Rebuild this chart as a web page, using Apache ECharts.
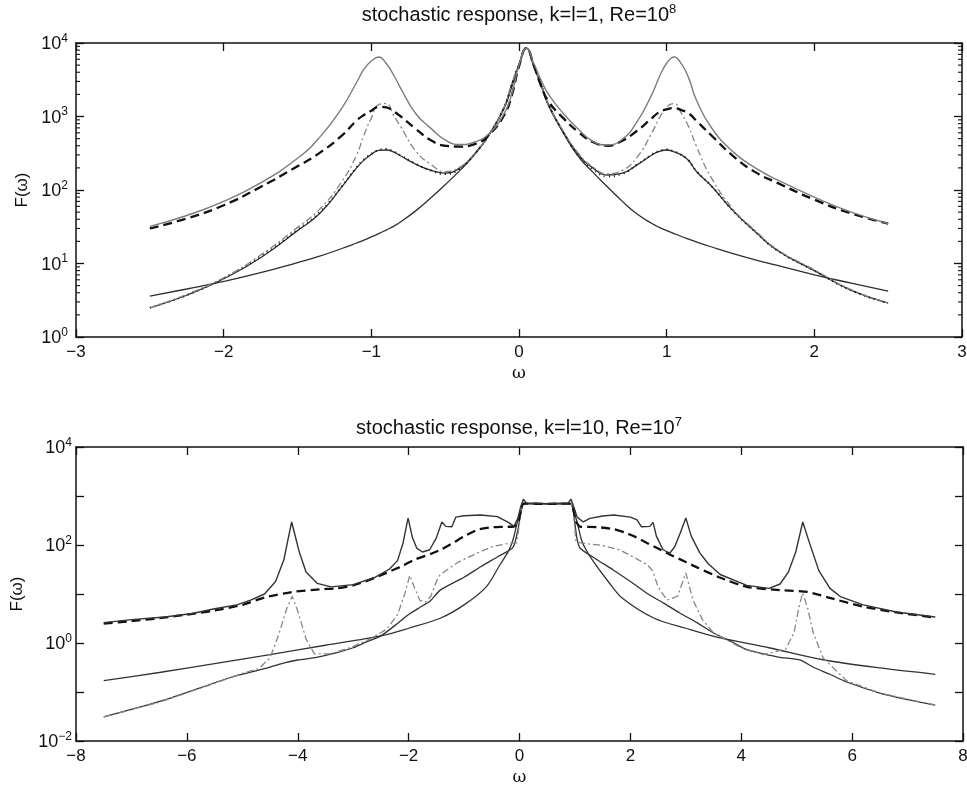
<!DOCTYPE html>
<html>
<head>
<meta charset="utf-8">
<script src="https://cdn.jsdelivr.net/npm/echarts@6/dist/echarts.min.js"></script>
<style>
html, body { margin: 0; padding: 0; background: #fff; }
#box { width: 967px; height: 791px; }
</style>
</head>
<body>
<div id="box"></div>
<script>
// top panel: k=l=1, Re=1e8 -- all curves share one omega grid
var wTop = [-2.5, -2.25, -2.0, -1.75, -1.5, -1.35, -1.2, -1.1, -1.05, -1.0, -0.95, -0.9, -0.85, -0.8, -0.7,
  -0.6, -0.5, -0.4, -0.3, -0.2, -0.1, -0.05, 0, 0.05, 0.1, 0.15, 0.2, 0.3, 0.4, 0.5, 0.6, 0.7, 0.8, 0.9, 0.95,
  1.0, 1.05, 1.1, 1.15, 1.2, 1.3, 1.45, 1.6, 1.75, 2.0, 2.25, 2.5];
var topGray = [32, 45, 70, 125, 270, 520, 1300, 2900, 4400, 5700, 6450, 5300, 3700, 2400, 1100,
  700, 480, 415, 450, 590, 1100, 2000, 5000, 8500, 5300, 3100, 2000, 1100, 680, 460, 410, 490, 850, 2000, 3450,
  5300, 6450, 5200, 3300, 1700, 720, 330, 200, 137, 80, 50, 35];
var topDashed = [30, 41, 62, 110, 210, 320, 550, 880, 1050, 1200, 1350, 1330, 1180, 1000, 680,
  480, 400, 390, 420, 570, 1050, 1900, 4800, 8500, 5000, 2600, 1600, 950, 620, 450, 400, 470, 640, 950, 1150,
  1250, 1300, 1220, 1100, 880, 560, 290, 175, 125, 74, 48, 35];
var topMid = [2.5, 3.7, 6.2, 12, 28, 48, 110, 200, 255, 305, 345, 350, 330, 290, 225,
  187, 170, 200, 310, 580, 1350, 2700, 5100, 8500, 4900, 2700, 1450, 620, 310, 200, 160, 170, 220, 300, 335,
  350, 330, 300, 250, 180, 115, 52, 27, 15, 8, 4.3, 2.9];
var topDashDot = [2.5, 3.8, 6.4, 13, 31, 55, 130, 300, 560, 950, 1450, 1500, 1050, 720, 340,
  225, 178, 205, 315, 585, 1350, 2700, 5100, 8500, 4900, 2700, 1450, 630, 320, 205, 166, 185, 280, 600, 950,
  1350, 1500, 1100, 720, 400, 150, 55, 28, 15.5, 8.2, 4.4, 2.9];
var topDotted = [2.5, 3.7, 6.3, 12.5, 29, 50, 112, 205, 260, 310, 350, 360, 335, 295, 228,
  185, 165, 195, 310, 580, 1350, 2700, 5100, 8500, 4900, 2700, 1450, 615, 300, 192, 153, 165, 222, 305, 340,
  355, 335, 300, 250, 182, 115, 52, 27, 15, 8, 4.3, 2.9];
var topLow = [3.6, 4.5, 5.7, 7.5, 10.3, 12.6, 16, 19, 20.8, 23, 25.5, 28.5, 32, 37, 52,
  77, 118, 185, 305, 570, 1300, 2500, 5000, 8500, 4800, 2650, 1400, 600, 290, 175, 110, 70, 47, 35, 31,
  28, 25.5, 23.3, 21.4, 19.7, 16.9, 13.6, 11.2, 9.4, 7.0, 5.4, 4.2];

// bottom panel: k=l=10, Re=1e7
var wBotPeaks = [-7.5, -7.0, -6.4, -5.9, -5.5, -5.1, -4.85, -4.6, -4.4, -4.25, -4.17, -4.11, -4.05, -3.97, -3.85,
  -3.65, -3.4, -3.0, -2.6, -2.35, -2.2, -2.1, -2.01, -1.93, -1.85, -1.75, -1.62, -1.5, -1.4, -1.33, -1.22, -1.15,
  -1.0, -0.7, -0.4, -0.2, -0.1, -0.03, 0.02, 0.07, 0.12, 0.5, 0.88, 0.93, 0.98, 1.04, 1.15, 1.27, 1.5, 1.7, 2.0,
  2.12, 2.2, 2.35, 2.41, 2.47, 2.59, 2.71, 2.8, 2.9, 3.0, 3.1, 3.25, 3.4, 3.62, 4.1, 4.5, 4.7, 4.85, 4.98, 5.11,
  5.22, 5.4, 5.6, 5.8, 6.2, 6.8, 7.5];
var botPeaks = [2.6, 3.0, 3.4, 4.0, 5.0, 6.0, 7.5, 10, 18, 50, 140, 295, 160, 70, 28,
  16.5, 14, 15.5, 22, 32, 48, 110, 355, 140, 85, 72, 80, 140, 295, 240, 235, 370,
  395, 410, 380, 290, 240, 350, 600, 860, 720, 700, 720, 860, 600, 370, 295, 350, 390, 410, 370,
  325, 235, 240, 290, 150, 80, 68, 92, 175, 355, 150, 70, 42, 25, 15, 13, 16, 28, 70, 295,
  120, 30, 13, 8.7, 6, 4.3, 3.4];

var wBotDashed = [-7.5, -7.0, -6.5, -6.0, -5.5, -5.0, -4.6, -4.1, -3.6, -3.3, -3.0, -2.7, -2.4, -2.1, -1.9,
  -1.6, -1.4, -1.2, -1.0, -0.75, -0.5, -0.3, -0.1, -0.02, 0.03, 0.07, 0.12, 0.5, 0.88, 0.93, 0.97, 1.02, 1.1,
  1.4, 1.7, 1.9, 2.1, 2.3, 2.5, 2.7, 3.0, 3.2, 3.6, 4.1, 4.7, 5.2, 5.6, 6.2, 6.8, 7.5];
var botDashed = [2.5, 2.8, 3.2, 3.8, 4.6, 6.0, 8.5, 11, 12.5, 13, 15, 19.5, 27, 38, 50,
  66, 82, 110, 150, 205, 230, 235, 238, 300, 550, 700, 700, 690, 700, 700, 550, 300, 235,
  232, 210, 180, 145, 110, 85, 65, 45, 35, 22, 14, 12, 11, 8.3, 5.5, 4.2, 3.3];

var wBotDashDot = [-7.5, -6.5, -5.5, -5.0, -4.7, -4.5, -4.35, -4.2, -4.1, -4.0, -3.85, -3.7, -3.4, -3.0, -2.7,
  -2.4, -2.2, -2.07, -1.98, -1.9, -1.8, -1.7, -1.6, -1.5, -1.43, -1.31, -1.1, -0.83, -0.5, -0.2, -0.05,
  0.03, 0.07, 0.12, 0.5, 0.88, 0.93, 0.97, 1.02, 1.1, 1.5, 1.8, 2.05, 2.3, 2.4, 2.5, 2.66, 2.85, 3.0, 3.13,
  3.3, 3.5, 4.0, 4.4, 4.8, 4.95, 5.05, 5.11, 5.2, 5.3, 5.48, 5.9, 6.5, 7.5];
var botDashDot = [0.031, 0.062, 0.15, 0.24, 0.3, 0.5, 1.4, 5, 9, 4.5, 1.2, 0.6, 0.6, 0.85, 1.2,
  1.9, 3.8, 10, 24, 14, 7.5, 6.8, 9, 18, 25, 31, 45, 63, 92, 108, 110,
  500, 700, 700, 690, 700, 700, 500, 115, 110, 98, 80, 57, 40, 30, 14, 7.5, 9, 27, 7.5,
  3.0, 1.6, 0.8, 0.58, 0.75, 1.6, 6, 10.5, 5, 1.6, 0.49, 0.17, 0.095, 0.054];

var wBotKink = [-7.5, -6.4, -5.2, -4.6, -4.26, -4.0, -3.66, -3.33, -3.0, -2.76, -2.5, -2.2, -2.0, -1.8, -1.61,
  -1.43, -1.0, -0.7, -0.4, -0.12, -0.03, 0.03, 0.07, 0.12, 0.5, 0.88, 0.93, 0.97, 1.03, 1.09, 1.4, 1.69, 2.0,
  2.29, 2.6, 2.89, 3.2, 3.5, 3.8, 4.1, 4.4, 4.7, 5.06, 5.3, 5.6, 5.9, 6.5, 7.0, 7.5];
var botKink = [0.031, 0.069, 0.2, 0.3, 0.39, 0.45, 0.51, 0.62, 0.8, 1.05, 1.4, 2.5, 3.8, 5.3, 7.2,
  12, 22, 36, 57, 88, 200, 500, 700, 700, 690, 700, 700, 500, 150, 87, 50, 31, 18,
  10.5, 6.5, 4.1, 2.6, 1.6, 1.1, 0.73, 0.6, 0.51, 0.45, 0.32, 0.23, 0.16, 0.095, 0.07, 0.054];

var wBotFan = [-7.5, -6.5, -5.5, -4.5, -3.5, -2.5, -2.0, -1.43, -1.0, -0.6, -0.35, -0.2, -0.12, -0.03,
  0.03, 0.07, 0.12, 0.5, 0.88, 0.93, 0.97, 1.03, 1.12, 1.2, 1.35, 1.6, 1.84, 2.43, 3.0, 3.58, 4.5, 5.5, 6.5, 7.5];
var botFan = [0.17, 0.25, 0.38, 0.58, 0.9, 1.4, 2.0, 3.2, 6, 14, 40, 75, 125, 320,
  500, 700, 700, 690, 700, 700, 500, 320, 125, 80, 43, 18, 8.5, 3.2, 2.0, 1.3, 0.8, 0.45, 0.31, 0.23];

var FONT = '"Liberation Sans", Arial, sans-serif';
var BLACK = '#111';

function pairs(xs, ys) {
  return xs.map(function(x, i) { return [x, ys[i]]; });
}

function xAxisOf(grid, min, max, step, pos, labels) {
  return {
    type: 'value', gridIndex: grid, min: min, max: max, interval: step, position: pos,
    axisLine: { show: true, onZero: false, lineStyle: { color: BLACK, width: 1.5 } },
    axisTick: { show: true, inside: true, length: 8, lineStyle: { color: BLACK, width: 1.3 } },
    axisLabel: {
      show: labels, color: BLACK, fontSize: 17, fontFamily: FONT, margin: 7,
      formatter: function(v) { return String(v).replace('-', '\u2212'); }
    },
    splitLine: { show: false },
    name: labels ? '\u03c9' : '', nameLocation: 'middle', nameGap: 28,
    nameTextStyle: { color: BLACK, fontSize: 17, fontFamily: '"DejaVu Serif", serif' }
  };
}

function yAxisOf(grid, min, max, pos, labels, every, gap, margin) {
  return {
    type: 'log', logBase: 10, gridIndex: grid, min: min, max: max, position: pos,
    axisLine: { show: true, onZero: false, lineStyle: { color: BLACK, width: 1.5 } },
    axisTick: { show: true, inside: true, length: 8, lineStyle: { color: BLACK, width: 1.3 } },
    axisLabel: {
      show: labels, color: BLACK, margin: margin,
      formatter: function(v) {
        var e = Math.round(Math.log(v) / Math.LN10);
        if (e % every !== 0) return '';
        return '{b|10}{s|' + (e < 0 ? '\u2212' : '') + Math.abs(e) + '}';
      },
      rich: {
        b: { fontSize: 18, fontFamily: FONT, color: BLACK, verticalAlign: 'bottom' },
        s: { fontSize: 12, fontFamily: FONT, color: BLACK, verticalAlign: 'bottom', padding: [0, 0, 9, 0] }
      }
    },
    splitLine: { show: false },
    name: labels ? 'F(\u03c9)' : '', nameLocation: 'middle', nameGap: gap, nameRotate: 90,
    nameTextStyle: { color: BLACK, fontSize: 17, fontFamily: FONT }
  };
}

function line(name, data, xi, yi, color, width, type, smooth, z) {
  return {
    name: name, type: 'line', xAxisIndex: xi, yAxisIndex: yi, data: data,
    showSymbol: false, smooth: smooth, z: z,
    lineStyle: { color: color, width: width, type: type, cap: 'butt' }
  };
}

var chart = echarts.init(document.getElementById('box'));
var option = {
  animation: false,
  backgroundColor: '#fff',
  grid: [
    { left: 76, top: 43, width: 886, height: 294, outerBoundsMode: 'none', containLabel: false },
    { left: 76, top: 447, width: 887, height: 294, outerBoundsMode: 'none', containLabel: false }
  ],
  xAxis: [
    xAxisOf(0, -3, 3, 1, 'bottom', true),
    xAxisOf(0, -3, 3, 1, 'top', false),
    xAxisOf(1, -8, 8, 2, 'bottom', true),
    xAxisOf(1, -8, 8, 2, 'top', false)
  ],
  yAxis: [
    yAxisOf(0, 1, 10000, 'left', true, 1, 38, 8),
    yAxisOf(0, 1, 10000, 'right', false, 1, 38, 8),
    yAxisOf(1, 0.01, 10000, 'left', true, 2, 50, 4),
    yAxisOf(1, 0.01, 10000, 'right', false, 2, 50, 4)
  ],
  series: [
    line('low', pairs(wTop, topLow), 0, 0, '#2e2e2e', 1.3, 'solid', 0.5, 2),
    line('mid', pairs(wTop, topMid), 0, 0, '#2e2e2e', 1.3, 'solid', 0.5, 2),
    line('dotted', pairs(wTop, topDotted), 0, 0, BLACK, 2, [1, 4], 0.5, 3),
    line('dashdot', pairs(wTop, topDashDot), 0, 0, '#858585', 1.3, [7, 3, 2, 3], 0.5, 3),
    line('dashed', pairs(wTop, topDashed), 0, 0, BLACK, 2.3, [9, 5], 0.5, 4),
    line('gray', pairs(wTop, topGray), 0, 0, '#7c7c7c', 1.4, 'solid', 0.5, 5),

    line('fan', pairs(wBotFan, botFan), 2, 2, '#333', 1.3, 'solid', 0.3, 2),
    line('kink', pairs(wBotKink, botKink), 2, 2, '#333', 1.3, 'solid', 0.2, 2),
    line('dashdot', pairs(wBotDashDot, botDashDot), 2, 2, '#858585', 1.3, [7, 3, 2, 3], false, 3),
    line('dashed', pairs(wBotDashed, botDashed), 2, 2, BLACK, 2.3, [9, 5], 0.2, 4),
    line('peaks', pairs(wBotPeaks, botPeaks), 2, 2, '#333', 1.4, 'solid', false, 5)
  ]
};
chart.setOption(option);

// titles and the minor log ticks of the top panel
var sup = { fontSize: 13, fontFamily: FONT, fill: BLACK, verticalAlign: 'bottom', padding: [0, 0, 10, 0] };
var main = { fontSize: 20, fontFamily: FONT, fill: BLACK, verticalAlign: 'bottom' };
var elements = [
  { type: 'text', x: 519, y: 14,
    style: { text: '{t|stochastic response, k=l=1, Re=10}{s|8}', align: 'center', verticalAlign: 'middle',
      textAlign: 'center', textVerticalAlign: 'middle', rich: { t: main, s: sup } } },
  { type: 'text', x: 519, y: 427,
    style: { text: '{t|stochastic response, k=l=10, Re=10}{s|7}', align: 'center', verticalAlign: 'middle',
      textAlign: 'center', textVerticalAlign: 'middle', rich: { t: main, s: sup } } }
];
var xl = chart.convertToPixel({ xAxisIndex: 0 }, -3);
var xr = chart.convertToPixel({ xAxisIndex: 0 }, 3);
for (var e = 0; e < 4; e++) {
  for (var m = 2; m <= 9; m++) {
    var y = chart.convertToPixel({ yAxisIndex: 0 }, m * Math.pow(10, e));
    elements.push({ type: 'line', shape: { x1: xl, y1: y, x2: xl + 4, y2: y }, style: { stroke: BLACK, lineWidth: 1.1 } });
    elements.push({ type: 'line', shape: { x1: xr - 4, y1: y, x2: xr, y2: y }, style: { stroke: BLACK, lineWidth: 1.1 } });
  }
}
chart.setOption({ graphic: { elements: elements } });
</script>
</body>
</html>
